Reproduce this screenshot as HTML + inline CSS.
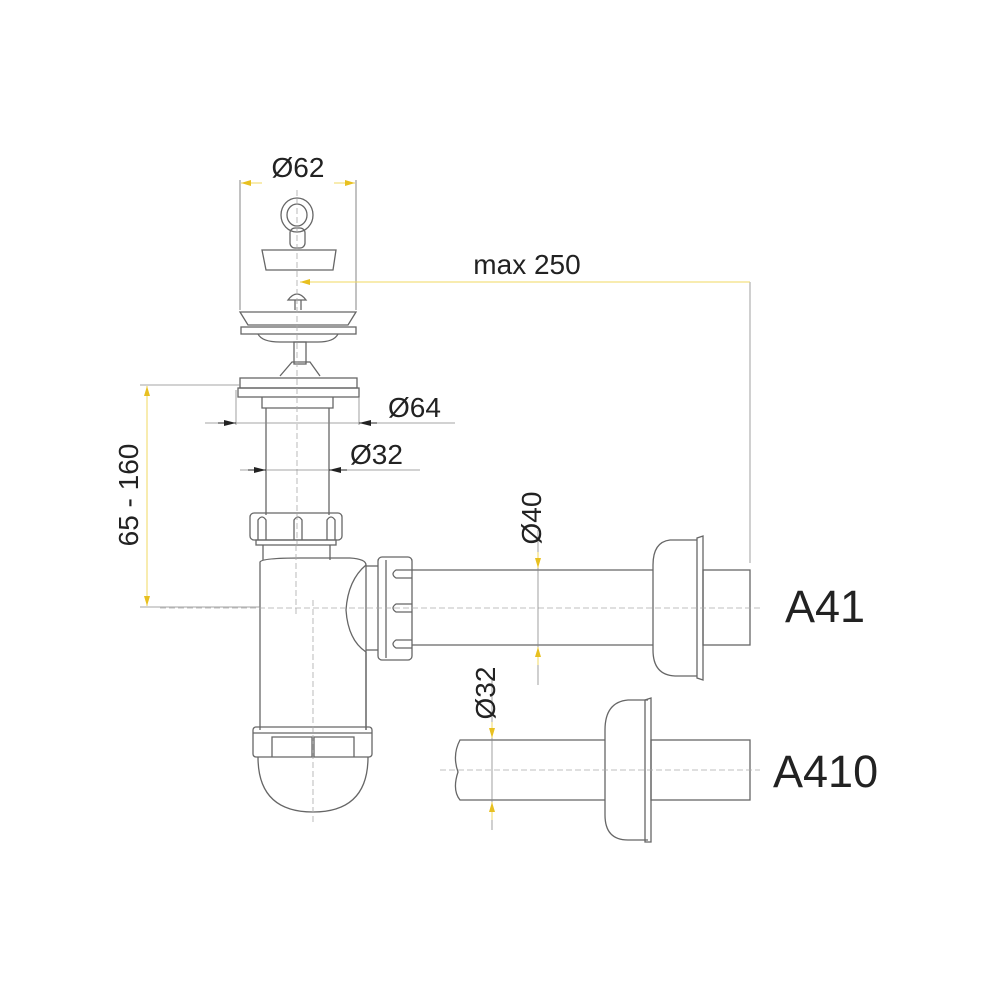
<!DOCTYPE html>
<html><head><style>body{margin:0;background:#fff}svg{display:block}text{font-family:"Liberation Sans",sans-serif;fill:#222}</style></head>
<body>
<svg width="1000" height="1000" viewBox="0 0 1000 1000" xmlns="http://www.w3.org/2000/svg">
<defs>
<marker id="ya" viewBox="0 0 10 6" refX="10" refY="3" markerWidth="10" markerHeight="6" orient="auto-start-reverse" markerUnits="userSpaceOnUse"><path d="M0,0L10,3L0,6z" fill="#e8c020"/></marker>
<marker id="ka" viewBox="0 0 12 6" refX="12" refY="3" markerWidth="12" markerHeight="6" orient="auto-start-reverse" markerUnits="userSpaceOnUse"><path d="M0,0L12,3L0,6z" fill="#222"/></marker>
</defs>
<g fill="none" stroke="#666" stroke-width="1.3">
<line x1="240" y1="180" x2="240" y2="310" stroke-width="0.8"/>
<line x1="356" y1="180" x2="356" y2="310" stroke-width="0.8"/>
<ellipse cx="297" cy="215" rx="16" ry="17"/>
<ellipse cx="297" cy="215" rx="10" ry="11"/>
<rect x="290" y="228" width="15" height="20" rx="5"/>
<path d="M262,250 L336,250 L333,270 L266,270 Z"/>
<path d="M288,300 Q297,288 306,300 Z"/>
<line x1="295" y1="300" x2="295" y2="310"/><line x1="301" y1="300" x2="301" y2="310"/>
<path d="M240,312 L356,312 L348,325 L248,325 Z"/>
<rect x="241" y="327" width="115" height="7"/>
<path d="M258,334 Q262,342 280,342 L318,342 Q334,342 338,334"/>
<rect x="294" y="342" width="12" height="22"/>
<path d="M280,376 L292,362 L310,362 L320,376"/>
<rect x="240" y="378" width="117" height="10"/>
<rect x="238" y="388" width="121" height="9"/>
<path d="M262,397 L262,408 L333,408 L333,397"/>
<line x1="266" y1="408" x2="266" y2="515"/><line x1="329" y1="408" x2="329" y2="515"/>
<rect x="250" y="513" width="92" height="27" rx="4"/>
<path d="M258,540 L258,520 Q262,514 266,520 L266,540 M294,540 L294,520 Q298,514 302,520 L302,540 M327,540 L327,520 Q331,514 335,520 L335,540"/>
<rect x="256" y="540" width="80" height="5"/>
<line x1="263" y1="545" x2="263" y2="560"/><line x1="330" y1="545" x2="330" y2="560"/>
<path d="M260,730 L260,562 Q262,558 300,558 L350,558 Q366,559 366,565 L366,730"/>
<path d="M366,565 Q348,580 346,610 Q348,640 366,652"/>
<line x1="366" y1="652" x2="366" y2="730"/>
<rect x="378" y="557" width="34" height="103" rx="4"/>
<line x1="386" y1="560" x2="386" y2="658"/>
<line x1="366" y1="566" x2="378" y2="566"/><line x1="366" y1="650" x2="378" y2="650"/>
<path d="M412,570 L396,570 Q390,574 396,578 L412,578 M412,604 L396,604 Q390,608 396,612 L412,612 M412,640 L396,640 Q390,644 396,648 L412,648"/>
<line x1="412" y1="570" x2="653" y2="570"/><line x1="412" y1="645" x2="653" y2="645"/>
<path d="M697,540 L670,540 Q653,542 653,565 L653,650 Q653,675 675,676 L697,676"/>
<path d="M697,538 L703,536 L703,680 L697,678 Z"/>
<rect x="703" y="570" width="47" height="75"/>
<rect x="253" y="727" width="119" height="30" rx="3"/>
<line x1="253" y1="733" x2="372" y2="733"/>
<path d="M272,757 L272,737 L312,737 L312,757 M314,757 L314,737 L354,737 L354,757"/>
<path d="M258,757 Q258,812 313,812 Q368,812 368,757"/>
<path d="M605,740 L460,740 Q452,755 458,772 Q452,790 460,800 L605,800"/>
<path d="M648,700 L628,700 Q605,702 605,730 L605,815 Q605,840 628,840 L648,840"/>
<path d="M645,700 L651,698 L651,842 L645,842 Z"/>
<rect x="651" y="740" width="99" height="60"/>
</g>
<g stroke="#aaa" stroke-width="0.8" stroke-dasharray="6,3" fill="none">
<line x1="297" y1="190" x2="297" y2="545"/>
<line x1="296" y1="545" x2="296" y2="615"/>
<line x1="313" y1="600" x2="313" y2="825"/>
<line x1="160" y1="608" x2="760" y2="608"/>
<line x1="440" y1="770" x2="760" y2="770"/>
</g>
<g stroke="#888" stroke-width="0.8" fill="none">
<line x1="236" y1="390" x2="236" y2="425"/><line x1="359" y1="397" x2="359" y2="425"/>
<line x1="205" y1="423" x2="455" y2="423"/>
<line x1="240" y1="470" x2="420" y2="470"/>
<line x1="140" y1="385" x2="240" y2="385"/>
<line x1="140" y1="607" x2="260" y2="607"/>
<line x1="750" y1="282" x2="750" y2="563"/>
<line x1="538" y1="530" x2="538" y2="685"/>
<line x1="492" y1="680" x2="492" y2="830"/>
</g>
<g stroke="#222" stroke-width="1">
<line x1="218" y1="423" x2="236" y2="423" marker-end="url(#ka)"/>
<line x1="377" y1="423" x2="359" y2="423" marker-end="url(#ka)"/>
<line x1="248" y1="470" x2="266" y2="470" marker-end="url(#ka)"/>
<line x1="347" y1="470" x2="329" y2="470" marker-end="url(#ka)"/>
</g>
<g stroke="#f0d860" stroke-width="1" fill="none">
<line x1="241" y1="183" x2="355" y2="183" marker-start="url(#ya)" marker-end="url(#ya)"/>
<line x1="300" y1="282" x2="750" y2="282" marker-start="url(#ya)"/>
<line x1="147" y1="386" x2="147" y2="606" marker-start="url(#ya)" marker-end="url(#ya)"/>
<line x1="538" y1="552" x2="538" y2="568" marker-end="url(#ya)"/>
<line x1="538" y1="665" x2="538" y2="647" marker-end="url(#ya)"/>
<line x1="492" y1="722" x2="492" y2="738" marker-end="url(#ya)"/>
<line x1="492" y1="820" x2="492" y2="802" marker-end="url(#ya)"/>
</g>
<rect x="262" y="176" width="72" height="14" fill="#fff"/>
<text x="298" y="177" font-size="28" text-anchor="middle">Ø62</text>
<text x="527" y="274" font-size="28" text-anchor="middle">max 250</text>
<text x="388" y="417" font-size="28">Ø64</text>
<text x="350" y="464" font-size="28">Ø32</text>
<text transform="translate(138,495) rotate(-90)" font-size="28" text-anchor="middle">65 - 160</text>
<text transform="translate(541,518) rotate(-90)" font-size="28" text-anchor="middle">Ø40</text>
<text transform="translate(495,693) rotate(-90)" font-size="28" text-anchor="middle">Ø32</text>
<text x="785" y="622" font-size="45">A41</text>
<text x="773" y="787" font-size="45">A410</text>
</svg>
</body></html>
